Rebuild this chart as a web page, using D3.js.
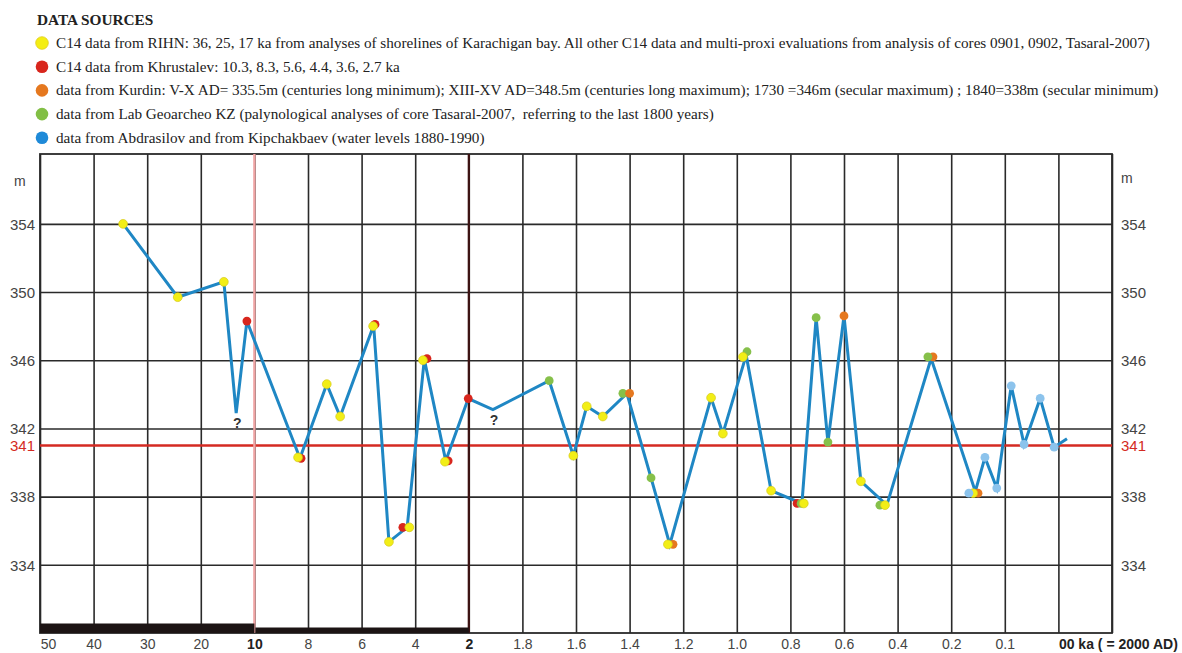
<!DOCTYPE html>
<html>
<head>
<meta charset="utf-8">
<script src="https://cdn.jsdelivr.net/npm/d3@7"></script>
<style>
  body { margin: 0; background: #fff; }
  svg { display: block; }
  .grid line { stroke: #2a2a2a; stroke-width: 1.6; }
  .grid path { display: none; }
  .tick text { font-family: "Liberation Sans", Arial, sans-serif; font-size: 14px; fill: #444; }
  .legend text { font-family: "Liberation Serif", "Times New Roman", serif; font-size: 15.2px; fill: #222; white-space: pre; }
</style>
</head>
<body>
<svg width="1182" height="653"></svg>
<script>
// legend
var legendLabels = [
  "C14 data from RIHN: 36, 25, 17 ka from analyses of shorelines of Karachigan bay. All other C14 data and multi-proxi evaluations from analysis of cores 0901, 0902, Tasaral-2007)",
  "C14 data from Khrustalev: 10.3, 8.3, 5.6, 4.4, 3.6, 2.7 ka",
  "data from Kurdin: V-X AD= 335.5m (centuries long minimum); XIII-XV AD=348.5m (centuries long maximum); 1730 =346m (secular maximum) ; 1840=338m (secular minimum)",
  "data from Lab Geoarcheo KZ (palynological analyses of core Tasaral-2007,  referring to the last 1800 years)",
  "data from Abdrasilov and from Kipchakbaev (water levels 1880-1990)"
];
var legendColors = ["#f4ee12", "#d8261d", "#e5781f", "#82bf45", "#1f8ad8"];

// x axis: ka before 2000 AD, piecewise (one grid column per tick)
var xTicks = [50, 40, 30, 20, 10, 8, 6, 4, 2, 1.8, 1.6, 1.4, 1.2, 1.0, 0.8, 0.6, 0.4, 0.2, 0.1, 0, -0.1];
var xLabels = ["50", "40", "30", "20", "10", "8", "6", "4", "2", "1.8", "1.6", "1.4", "1.2", "1.0",
               "0.8", "0.6", "0.4", "0.2", "0.1", "00 ka ( = 2000 AD)", ""];
var xBold = [10, 2, 0];
var yTicks = [334, 338, 342, 346, 350, 354];
var refLevel = 341;

// lake level curve (ka, m)
var lineKa = [34.5, 24.3, 15.7, 13.4, 11.4, 8.3, 7.3, 6.8, 5.55, 4.98, 4.3, 3.66, 2.86, 2.02, 1.91,
              1.70, 1.61, 1.56, 1.50, 1.41, 1.32, 1.25, 1.096, 1.052, 0.965, 0.872, 0.757, 0.704,
              0.66, 0.60, 0.537, 0.44, 0.275, 0.155, 0.137, 0.115, 0.088, 0.064, 0.034, 0.008, -0.016];
var lineM  = [354.0, 349.7, 350.6, 342.9, 348.3, 340.25, 344.6, 342.7, 348.05, 335.35, 336.2, 346.05, 340.1, 343.75, 343.1,
              344.8, 340.4, 343.3, 342.7, 344.05, 339.1, 335.2, 343.8, 341.7, 346.3, 338.35, 337.6, 348.5,
              341.2, 348.6, 338.9, 337.5, 346.1, 338.3, 340.3, 338.5, 344.5, 341.06, 343.76, 340.9, 341.4];

// dated points (ka, m, source index into legend)
var markKa  = [34.5, 24.3, 15.7, 11.4, 8.26, 8.37, 7.3, 6.8, 5.5, 5.57, 4.98, 4.46, 4.22, 3.56, 3.71, 2.77, 2.89, 2.02,
               1.70, 1.61, 1.56, 1.50, 1.425, 1.40, 1.32, 1.238, 1.257, 1.096, 1.052, 0.962, 0.977, 0.872,
               0.775, 0.76, 0.75, 0.704, 0.66, 0.60, 0.537, 0.466, 0.447, 0.268, 0.287, 0.15, 0.159, 0.167,
               0.137, 0.115, 0.088, 0.064, 0.034, 0.008];
var markM   = [354.0, 349.7, 350.6, 348.3, 340.25, 340.3, 344.6, 342.7, 348.1, 348.0, 335.35, 336.2, 336.2, 346.1, 346.0, 340.1, 340.05, 343.75,
               344.8, 340.4, 343.3, 342.7, 344.06, 344.06, 339.1, 335.2, 335.2, 343.8, 341.7, 346.5, 346.2, 338.35,
               337.6, 337.6, 337.6, 348.5, 341.2, 348.6, 338.9, 337.5, 337.5, 346.2, 346.2, 338.2, 338.2, 338.2,
               340.3, 338.5, 344.5, 341.06, 343.76, 340.9];
var markSrc = [0, 0, 0, 1, 1, 0, 0, 0, 1, 0, 0, 1, 0, 1, 0, 1, 0, 1,
               3, 0, 0, 0, 3, 2, 3, 2, 0, 0, 0, 3, 0, 0,
               1, 3, 0, 3, 3, 2, 0, 3, 0, 2, 3, 2, 0, 4,
               4, 4, 4, 4, 4, 4];
var markColors = ["#f2ee16", "#d8261d", "#e5781f", "#86c04a", "#8cc3ec"];

var questionKa = [13.4, 1.91];
var questionM = [342.9, 343.1];

var svg = d3.select("svg");
var plot = { left: 40, right: 1112, top: 154, bottom: 633 };

var x = d3.scaleLinear()
  .domain(xTicks)
  .range(xTicks.map(function(d, i) { return plot.left + i * (plot.right - plot.left) / (xTicks.length - 1); }));

var y = d3.scaleLinear()
  .domain([330, 358.1])
  .range([plot.bottom, plot.top]);

// legend
var lg = svg.append("g").attr("class", "legend");
lg.append("text")
  .attr("x", 37).attr("y", 25)
  .style("font-weight", "bold").style("font-size", "15.3px")
  .text("DATA SOURCES");

var rows = lg.selectAll("g.row")
  .data(legendLabels)
  .enter()
  .append("g")
  .attr("class", "row")
  .attr("transform", function(d, i) { return "translate(0," + (43 + i * 23.7) + ")"; });

rows.append("circle")
  .attr("cx", 42).attr("cy", 0).attr("r", 6.3)
  .style("fill", function(d, i) { return legendColors[i]; })
  .style("stroke", function(d, i) { return i === 0 ? "#e0cc20" : "none"; })
  .style("stroke-width", 0.8);

rows.append("text")
  .attr("x", 56).attr("y", 5)
  .text(function(d) { return d; });

// grid + axes
var gx = svg.append("g")
  .attr("class", "grid")
  .attr("transform", "translate(0," + plot.bottom + ")")
  .call(d3.axisBottom(x)
    .tickValues(xTicks)
    .tickSize(-(plot.bottom - plot.top))
    .tickPadding(0)
    .tickFormat(function(d, i) { return xLabels[i]; }));

gx.selectAll(".tick text")
  .attr("y", 16)
  .attr("dy", 0)
  .style("font-weight", function(d) { return xBold.indexOf(d) >= 0 ? "bold" : "normal"; })
  .style("fill", function(d) { return xBold.indexOf(d) >= 0 ? "#222" : "#444"; })
  .attr("text-anchor", function(d) { return d === 0 ? "start" : "middle"; })
  .attr("dx", function(d) { return d === 50 ? 8 : 0; });

var gy = svg.append("g")
  .attr("class", "grid")
  .attr("transform", "translate(" + plot.left + ",0)")
  .call(d3.axisLeft(y)
    .tickValues(yTicks)
    .tickSize(-(plot.right - plot.left))
    .tickPadding(5)
    .tickFormat(d3.format("d")));

gy.selectAll(".tick text").style("font-size", "15px").attr("dy", "0.35em");

var gyR = svg.append("g")
  .attr("class", "grid")
  .attr("transform", "translate(" + plot.right + ",0)")
  .call(d3.axisRight(y)
    .tickValues(yTicks)
    .tickSize(0)
    .tickPadding(9)
    .tickFormat(d3.format("d")));
gyR.selectAll(".tick text").style("font-size", "15px").attr("dy", "0.35em");

// frame
svg.append("rect")
  .attr("x", plot.left).attr("y", plot.top)
  .attr("width", plot.right - plot.left).attr("height", plot.bottom - plot.top)
  .style("fill", "none").style("stroke", "#2a2a2a").style("stroke-width", 1.8);

// "m" unit labels
svg.append("text").attr("x", 14).attr("y", 186)
  .style("font-family", "Liberation Sans, Arial, sans-serif").style("font-size", "14px").style("fill", "#444").text("m");
svg.append("text").attr("x", plot.right + 9).attr("y", 183)
  .style("font-family", "Liberation Sans, Arial, sans-serif").style("font-size", "14px").style("fill", "#444").text("m");

// 341 reference line and labels
svg.append("line")
  .attr("x1", plot.left).attr("x2", plot.right)
  .attr("y1", y(refLevel)).attr("y2", y(refLevel))
  .style("stroke", "#d42a22").style("stroke-width", 2.6);

svg.append("text")
  .attr("x", plot.left - 5).attr("y", y(refLevel)).attr("dy", "0.35em")
  .attr("text-anchor", "end")
  .style("font-family", "Liberation Sans, Arial, sans-serif").style("font-size", "15px").style("fill", "#d42a22")
  .text(refLevel);
svg.append("text")
  .attr("x", plot.right + 9).attr("y", y(refLevel)).attr("dy", "0.35em")
  .style("font-family", "Liberation Sans, Arial, sans-serif").style("font-size", "15px").style("fill", "#d42a22")
  .text(refLevel);

// special verticals at 10 ka and 2 ka
svg.append("line")
  .attr("x1", x(10)).attr("x2", x(10)).attr("y1", plot.top).attr("y2", plot.bottom)
  .style("stroke", "#f0a4a4").style("stroke-width", 2.4);
svg.append("line")
  .attr("x1", x(2)).attr("x2", x(2)).attr("y1", plot.top).attr("y2", plot.bottom)
  .style("stroke", "#3e1212").style("stroke-width", 2.2);

// black bars along the bottom
svg.append("rect")
  .attr("x", x(50)).attr("y", plot.bottom - 9.5)
  .attr("width", x(10) - x(50)).attr("height", 9.5)
  .style("fill", "#1c1414");
svg.append("rect")
  .attr("x", x(10) + 1).attr("y", plot.bottom - 5.5)
  .attr("width", x(2) - x(10) - 1).attr("height", 5.5)
  .style("fill", "#1c1414");

// curve
var pts = lineKa.map(function(d, i) { return [d, lineM[i]]; });
var line = d3.line()
  .x(function(d) { return x(d[0]); })
  .y(function(d) { return y(d[1]); });

svg.append("path")
  .datum(pts)
  .attr("d", line)
  .style("fill", "none")
  .style("stroke", "#1f87c4")
  .style("stroke-width", 3)
  .style("stroke-linejoin", "miter");

// markers
var marks = markKa.map(function(d, i) { return { ka: d, m: markM[i], src: markSrc[i] }; });
svg.append("g").selectAll("circle")
  .data(marks)
  .enter()
  .append("circle")
  .attr("cx", function(d) { return x(d.ka); })
  .attr("cy", function(d) { return y(d.m); })
  .attr("r", 4.4)
  .style("fill", function(d) { return markColors[d.src]; })
  .style("stroke", function(d) { return d.src === 0 ? "#d6c81a" : "none"; })
  .style("stroke-width", 0.7);

// question marks
svg.append("g").selectAll("text")
  .data(questionKa)
  .enter()
  .append("text")
  .attr("x", function(d) { return x(d) + 1; })
  .attr("y", function(d, i) { return y(questionM[i]) + 15; })
  .attr("text-anchor", "middle")
  .style("font-family", "Liberation Sans, Arial, sans-serif")
  .style("font-size", "14px")
  .style("font-weight", "bold")
  .style("fill", "#333")
  .text("?");
</script>
</body>
</html>
